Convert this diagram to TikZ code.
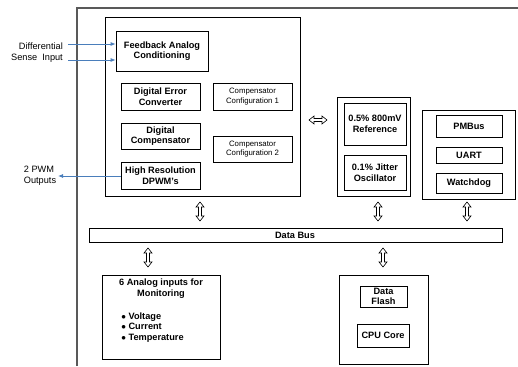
\documentclass[tikz,border=0pt]{standalone}
\usepackage{fontspec}
\setmainfont{Liberation Sans}
\usetikzlibrary{arrows.meta}

\tikzset{
  blk/.style={draw, line width=0.8pt, fill=white, inner sep=0pt, align=center,
    font=\bfseries\fontsize{9.2}{10.5}\selectfont},
  cfg/.style={blk, font=\fontsize{7.8}{9.3}\selectfont},
  grp/.style={draw, line width=0.8pt, inner sep=0pt},
  lbl/.style={inner sep=0pt, font=\fontsize{9.2}{11}\selectfont},
  sig/.style={draw={rgb,255:red,74;green,126;blue,187}, line width=0.8pt,
    -{Latex[length=5pt,width=4pt]}},
}
% hollow double block arrow, vertical: x, top y, bottom y
\newcommand{\vbusarrow}[3]{%
  \draw[fill=white, line width=0.6pt] (#1,#2) -- ({#1+4},{#2+5}) -- ({#1+1.5},{#2+5}) -- ({#1+1.5},{#3-5}) -- ({#1+4},{#3-5}) -- (#1,#3) -- ({#1-4},{#3-5}) -- ({#1-1.5},{#3-5}) -- ({#1-1.5},{#2+5}) -- ({#1-4},{#2+5}) -- cycle;}
% hollow double block arrow, horizontal: y, left x, right x
\newcommand{\hbusarrow}[3]{%
  \draw[fill=white, line width=0.6pt] (#2,#1) -- ({#2+5},{#1-4}) -- ({#2+5},{#1-1.5}) -- ({#3-5},{#1-1.5}) -- ({#3-5},{#1-4}) -- (#3,#1) -- ({#3-5},{#1+4}) -- ({#3-5},{#1+1.5}) -- ({#2+5},{#1+1.5}) -- ({#2+5},{#1+4}) -- cycle;}

\begin{document}
\begin{tikzpicture}[x=1pt,y=1pt,yscale=-1,xscale=1]
\useasboundingbox (0,0) rectangle (518,366);

%Shape: chip outline
\draw[black!65, line width=1.2pt] (77,366) -- (77,8) -- (518,8);

%Shape: controller group
\node[grp, minimum width=195pt, minimum height=179pt] (ctrl) at (202.5,106.5) {};
\node[blk, minimum width=92pt, minimum height=40pt] (fb) at (162,51) {Feedback Analog\\Conditioning};
\node[blk, minimum width=79pt, minimum height=27pt] (dec) at (160.5,96.5) {Digital Error\\Converter};
\node[cfg, minimum width=79pt, minimum height=27pt] (cfga) at (252.5,96.5) {Compensator\\Configuration 1};
\node[blk, minimum width=79pt, minimum height=26pt] (dcomp) at (160.5,136) {Digital\\Compensator};
\node[cfg, minimum width=79pt, minimum height=26pt] (cfgb) at (252.5,149) {Compensator\\Configuration 2};
\node[blk, minimum width=79pt, minimum height=27pt] (dpwm) at (160.5,175.5) {High Resolution\\DPWM's};

%Shape: reference group
\node[grp, minimum width=73pt, minimum height=99pt] (refgrp) at (373.5,146.5) {};
\node[blk, minimum width=62pt, minimum height=42pt] (vref) at (375,124) {0.5\% 800mV\\Reference};
\node[blk, minimum width=62pt, minimum height=35pt] (osc) at (375,172.5) {0.1\% Jitter\\Oscillator};

%Shape: communication group
\node[grp, minimum width=93pt, minimum height=89pt] (comgrp) at (468.5,154.5) {};
\node[blk, minimum width=66pt, minimum height=22pt] (pmbus) at (469,126) {PMBus};
\node[blk, minimum width=66pt, minimum height=16pt] (uart) at (469,155) {UART};
\node[blk, minimum width=66pt, minimum height=20pt] (wdog) at (469,183) {Watchdog};

%Shape: data bus
\node[grp, minimum width=413pt, minimum height=14pt] (bus) at (295.5,235) {};
\node[blk, draw=none, fill=none] (buslbl) at (295,235) {Data Bus};

%Shape: analog monitoring
\node[grp, minimum width=118pt, minimum height=84pt] (adc) at (161,317) {};
\node[blk, draw=none, fill=none, anchor=north, font=\bfseries\fontsize{9.2}{11.5}\selectfont]
  (adctitle) at (161,278) {6 Analog inputs for\\Monitoring};
\node[blk, draw=none, fill=none, anchor=north west, align=left,
  font=\bfseries\fontsize{9.2}{10.7}\selectfont] (adclist) at (121,312)
  {$\bullet$ Voltage\\$\bullet$ Current\\$\bullet$ Temperature};

%Shape: CPU group
\node[grp, minimum width=89pt, minimum height=89pt] (cpugrp) at (383.5,319.5) {};
\node[blk, minimum width=47pt, minimum height=21pt] (flash) at (383.5,296.5) {Data\\Flash};
\node[blk, minimum width=52pt, minimum height=23pt] (cpu) at (383,335.5) {CPU Core};

% Text Node
\node[lbl, anchor=east, align=right] (sense) at (63,53) {Differential\\Sense\ \ Input};
% Text Node
\node[lbl, align=left] (pwmout) at (40,176) {2 PWM\\Outputs};

%Straight Lines: signals
\coordinate (ina) at (68,44);
\coordinate (inb) at (68,60);
\coordinate (outa) at (58,176);
\draw[sig] (ina) -- (ina -| fb.west);
\draw[sig] (inb) -- (inb -| fb.west);
\draw[sig] (dpwm.west |- outa) -- (outa);

%Block arrows
\hbusarrow{120}{309}{327}
\vbusarrow{200}{202}{221}
\vbusarrow{378}{202}{221}
\vbusarrow{467}{202}{221}
\vbusarrow{148}{248}{267}
\vbusarrow{383}{248}{267}

\end{tikzpicture}
\end{document}
